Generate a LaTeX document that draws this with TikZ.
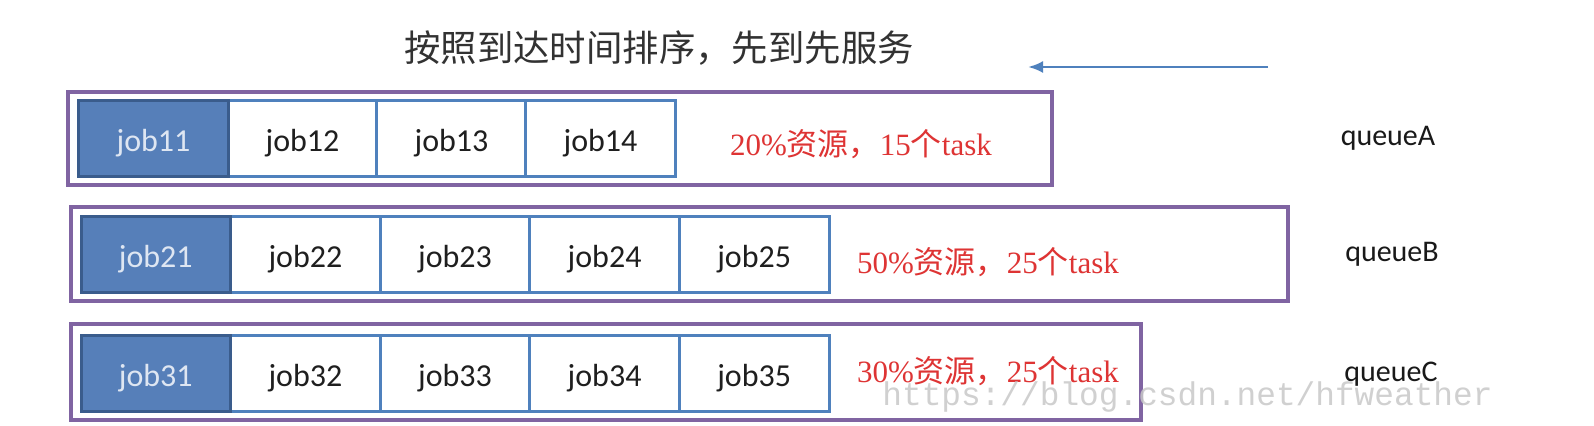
\documentclass[tikz,border=0pt]{standalone}
\usepackage{fontspec}
\setmainfont{Liberation Serif}
\newfontfamily\cjk{Noto Sans CJK SC}
\newfontfamily\calfont{Carlito}
\newfontfamily\wmfont{Liberation Mono}
\usetikzlibrary{arrows.meta}
\definecolor{qpurple}{RGB}{128,100,162}
\definecolor{jblue}{RGB}{79,129,189}
\definecolor{jdark}{RGB}{58,92,140}
\definecolor{jfill}{RGB}{86,127,185}
\definecolor{jtext}{RGB}{222,230,242}
\definecolor{rtext}{RGB}{222,52,52}
\definecolor{ttext}{RGB}{50,50,50}
\definecolor{wmgray}{RGB}{200,200,200}
\newcommand{\restxt}[2]{{\fontsize{15.5}{18}\selectfont #1\%{\cjk 资源，}#2{\cjk 个}task}}
\tikzset{
  queuebox/.style={draw=qpurple, line width=1.6pt, fill=white, inner sep=0pt},
  jobbox/.style={draw=jblue, line width=1.5pt, fill=white, inner sep=0pt,
    minimum width=74.8pt, minimum height=38pt, text=black!88,
    text height=16pt, text depth=3.2pt,
    font=\calfont\fontsize{16}{18}\selectfont},
  headjob/.style={jobbox, draw=jdark, fill=jfill, text=jtext},
  restext/.style={text=rtext, inner sep=0pt},
  qlabel/.style={font=\calfont\fontsize{15}{18}\selectfont, text=black!90, inner sep=0pt},
  flowarrow/.style={draw=jblue, line width=1.4pt, -{Latex[length=7.5pt,width=6pt]}}
}
\begin{document}
\begin{tikzpicture}[x=0.5pt,y=-0.5pt]
\useasboundingbox (0,0) rectangle (1594,426);
\fill[white] (0,0) rectangle (1594,426);

% title and arrow
\node[text=ttext, font=\cjk\fontsize{18.2}{20}\selectfont, inner sep=0pt] (title) at (659,48) {按照到达时间排序，先到先服务};
\coordinate (arrS) at (1268,67);
\coordinate (arrE) at (1028,67);
\draw[flowarrow] (arrS) -- (arrE);

% queue boxes
\node[queuebox, minimum width=492pt, minimum height=46.5pt] (qa) at (560,138.5) {};
\node[queuebox, minimum width=608.5pt, minimum height=47pt] (qb) at (679.5,254) {};
\node[queuebox, minimum width=535pt, minimum height=48pt] (qc) at (606,372) {};

% queue A jobs
\node[jobbox] (j12) at (302.5,139) {job12};
\node[jobbox] (j13) at (451.5,139) {job13};
\node[jobbox] (j14) at (600.5,139) {job14};
\node[headjob] (j11) at (153.5,139) {job11};

% queue B jobs
\node[jobbox] (j22) at (305.4,255) {job22};
\node[jobbox] (j23) at (455,255) {job23};
\node[jobbox] (j24) at (604.6,255) {job24};
\node[jobbox] (j25) at (754.2,255) {job25};
\node[headjob] (j21) at (155.8,255) {job21};

% queue C jobs
\node[jobbox] (j32) at (305.4,374) {job32};
\node[jobbox] (j33) at (455,374) {job33};
\node[jobbox] (j34) at (604.6,374) {job34};
\node[jobbox] (j35) at (754.2,374) {job35};
\node[headjob] (j31) at (155.8,374) {job31};

% resource texts
\node[restext] (ra) at (861,144) {\restxt{20}{15}};
\node[restext] (rb) at (988,262) {\restxt{50}{25}};
\node[restext] (rc) at (988,371) {\restxt{30}{25}};

% queue labels
\node[qlabel] (la) at (1388,138) {queueA};
\node[qlabel] (lb) at (1392,254) {queueB};
\node[qlabel] (lc) at (1391,374) {queueC};

% watermark
\node[anchor=base west, inner sep=0pt, text=wmgray, text opacity=0.85,
  font=\wmfont\fontsize{16.4}{18}\selectfont] (wm) at (882,406) {https://blog.csdn.net/hfweather};
\end{tikzpicture}
\end{document}
